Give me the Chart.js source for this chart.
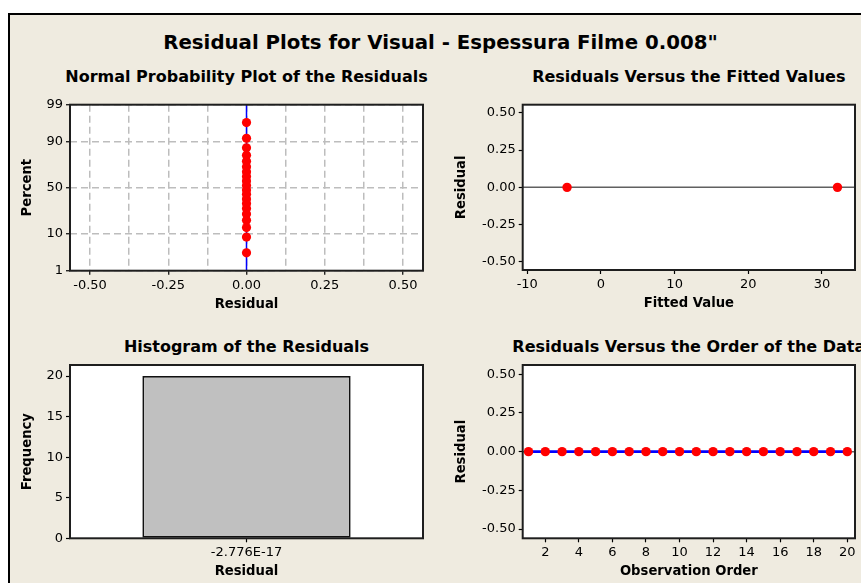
<!DOCTYPE html>
<html><head><meta charset="utf-8">
<script src="https://cdn.jsdelivr.net/npm/chart.js@4.4.1/dist/chart.umd.min.js"></script>
<style>
html,body{margin:0;padding:0;background:#fff;}
body{width:861px;height:583px;position:relative;overflow:hidden;font-family:"DejaVu Sans",sans-serif;}
#frame{position:absolute;left:8px;top:13px;width:900px;height:620px;background:#EFEBE0;border-left:2px solid #000;border-top:2px solid #000;}
.t{position:absolute;font-weight:bold;color:#000;text-align:center;white-space:nowrap;font-family:"DejaVu Sans",sans-serif;}
.st{font-size:16px;line-height:20px;width:500px;}
canvas{position:absolute;}
</style></head><body>
<div id="frame"></div>
<div class="t" style="left:140.5px;width:600px;top:31.4px;font-size:19.75px;line-height:24px;">Residual Plots for Visual - Espessura Filme 0.008"</div>
<div class="t st" style="left:-3.5px;top:67.3px;">Normal Probability Plot of the Residuals</div>
<div class="t st" style="left:438.8px;top:67.3px;">Residuals Versus the Fitted Values</div>
<div class="t st" style="left:-3.5px;top:336.5px;">Histogram of the Residuals</div>
<div class="t st" style="left:438.8px;top:336.5px;">Residuals Versus the Order of the Data</div>
<canvas id="c1" width="440" height="270" style="left:0px;top:50px;"></canvas>
<canvas id="c2" width="421" height="270" style="left:440px;top:50px;"></canvas>
<canvas id="c3" width="440" height="263" style="left:0px;top:320px;"></canvas>
<canvas id="c4" width="421" height="263" style="left:440px;top:320px;"></canvas>
<script>
// ---------- DATA ----------
const nppResiduals = [0,0,0,0,0,0,0,0,0,0,0,0,0,0,0,0,0,0,0,0];
const nppPercents = [3.4,8.3,13.2,18.1,23.0,27.9,32.8,37.7,42.6,47.5,52.5,57.4,62.3,67.2,72.1,77.0,81.9,86.8,91.7,96.6];
const nppFitMean = 0;
const nppXTicks = [-0.5,-0.375,-0.25,-0.125,0,0.125,0.25,0.375,0.5];
const nppYTickPercents = [1,10,50,90,99];

const fittedValues = [-4.6, 32.1];
const fittedResiduals = [0, 0];
const fittedXTicks = [-10,0,10,20,30];
const residualYTicks = [-0.5,-0.25,0,0.25,0.5];
const residualRef = 0;

const histCategories = ['-2.776E-17'];
const histFrequencies = [20];
const histYTicks = [0,5,10,15,20];

const obsOrder = [1,2,3,4,5,6,7,8,9,10,11,12,13,14,15,16,17,18,19,20];
const orderResiduals = [0,0,0,0,0,0,0,0,0,0,0,0,0,0,0,0,0,0,0,0];
const orderXTicks = [2,4,6,8,10,12,14,16,18,20];

// ---------- helpers ----------
function probit(p){
 const a=[-3.969683028665376e+01,2.209460984245205e+02,-2.759285104469687e+02,1.383577518672690e+02,-3.066479806614716e+01,2.506628277459239e+00];
 const b=[-5.447609879822406e+01,1.615858368580409e+02,-1.556989798598866e+02,6.680131188771972e+01,-1.328068155288572e+01];
 const c=[-7.784894002430293e-03,-3.223964580411365e-01,-2.400758277161838e+00,-2.549732539343734e+00,4.374664141464968e+00,2.938163982698783e+00];
 const d=[7.784695709041462e-03,3.224671290700398e-01,2.445134137142996e+00,3.754408661907416e+00];
 const pl=0.02425, ph=1-pl; let q,r;
 if(p<pl){q=Math.sqrt(-2*Math.log(p));return (((((c[0]*q+c[1])*q+c[2])*q+c[3])*q+c[4])*q+c[5])/((((d[0]*q+d[1])*q+d[2])*q+d[3])*q+1);}
 if(p>ph){q=Math.sqrt(-2*Math.log(1-p));return -(((((c[0]*q+c[1])*q+c[2])*q+c[3])*q+c[4])*q+c[5])/((((d[0]*q+d[1])*q+d[2])*q+d[3])*q+1);}
 q=p-0.5;r=q*q;return (((((a[0]*r+a[1])*r+a[2])*r+a[3])*r+a[4])*r+a[5])*q/(((((b[0]*r+b[1])*r+b[2])*r+b[3])*r+b[4])*r+1);
}
Chart.defaults.font.family = '"DejaVu Sans", sans-serif';
Chart.defaults.color = '#000';
const tickFont = {family:'"DejaVu Sans", sans-serif', size:13};
const axisFont = {family:'"DejaVu Sans", sans-serif', size:13.2, weight:'bold'};
const RED = '#FF0000', BLUE = '#0000FF';

const framePlugin = {
  id:'frame',
  beforeDraw(chart){const {ctx, chartArea:a}=chart; ctx.save(); ctx.fillStyle='#fff'; ctx.fillRect(a.left,a.top,a.right-a.left,a.bottom-a.top); ctx.restore();},
  afterDraw(chart){const {ctx, chartArea:a}=chart; ctx.save(); ctx.strokeStyle='#1e1e1e'; ctx.lineWidth=2; ctx.strokeRect(a.left,a.top,a.right-a.left,a.bottom-a.top); ctx.restore();}
};
const refLinePlugin = {
  id:'refLine',
  beforeDatasetsDraw(chart){const {ctx, chartArea:a}=chart; const y=chart.scales.y.getPixelForValue(residualRef); ctx.save(); ctx.strokeStyle='#606060'; ctx.lineWidth=1.5; ctx.beginPath(); ctx.moveTo(a.left,y); ctx.lineTo(a.right,y); ctx.stroke(); ctx.restore();}
};

function plainGrid(){ return {drawOnChartArea:false, drawTicks:true, tickLength:4, tickColor:'#000', tickWidth:1.2}; }
function linAxis(o){
  return {
    type:'linear', position:o.pos, min:o.min, max:o.max,
    afterBuildTicks:s=>{s.ticks=o.ticks.map(v=>({value:v}));},
    afterFit:s=>{ if(o.pos==='left') s.width=o.size; else s.height=o.size; },
    ticks:{font:tickFont, color:'#000', padding:3, autoSkip:false, maxRotation:0, minRotation:0, callback:o.cb},
    grid:o.grid || plainGrid(),
    border:Object.assign({display:false}, o.border||{}),
    title:{display:true, text:o.title, font:axisFont, color:'#000', padding:o.tpad}
  };
}
function baseOpts(top, right, scales){
  return {responsive:false, animation:false, devicePixelRatio:1,
    layout:{padding:{top:top,left:0,right:right,bottom:0}},
    plugins:{legend:{display:false}, tooltip:{enabled:false}},
    scales:scales};
}

// ---------- Panel 1: normal probability plot ----------
const zMin = probit(nppYTickPercents[0]/100), zMax = probit(nppYTickPercents[nppYTickPercents.length-1]/100);
new Chart(document.getElementById('c1'), {
  type:'scatter',
  data:{datasets:[
    {data:nppResiduals.map((r,i)=>({x:r,y:probit(nppPercents[i]/100)})), pointRadius:4.6, pointBackgroundColor:RED, pointBorderWidth:0, showLine:false},
    {data:[{x:nppFitMean,y:-3},{x:nppFitMean,y:3}], showLine:true, borderColor:BLUE, borderWidth:1.5, pointRadius:0}
  ]},
  options:baseOpts(54.7, 17, {
    x:linAxis({pos:'bottom', min:-0.564, max:0.564, ticks:nppXTicks, size:49.3, title:'Residual', tpad:{top:0,bottom:7.6},
      cb:(v,i)=> (i%2===0 ? v.toFixed(2) : ''),
      grid:{drawOnChartArea:true, drawTicks:true, tickLength:4, tickWidth:1.2, color:'#bdbdbd', lineWidth:1.5,
            tickColor:(c)=> (c.index%2===0 ? '#000' : 'rgba(0,0,0,0)')},
      border:{dash:[7,4]}}),
    y:linAxis({pos:'left', min:zMin, max:zMax, ticks:nppYTickPercents.map(p=>probit(p/100)), size:70, title:'Percent', tpad:{top:20,bottom:0},
      cb:(v,i)=> String(nppYTickPercents[i]),
      grid:{drawOnChartArea:true, drawTicks:true, tickLength:4, tickWidth:1.2, color:'#bdbdbd', lineWidth:1.5, tickColor:'#000'},
      border:{dash:[7,4]}})
  }),
  plugins:[framePlugin]
});

// ---------- Panel 2: residuals vs fitted ----------
new Chart(document.getElementById('c2'), {
  type:'scatter',
  data:{datasets:[{data:fittedValues.map((f,i)=>({x:f,y:fittedResiduals[i]})), pointRadius:4.7, pointBackgroundColor:RED, pointBorderWidth:0}]},
  options:baseOpts(54.7, 6, {
    x:linAxis({pos:'bottom', min:-10.62, max:34.48, ticks:fittedXTicks, size:50, title:'Fitted Value', tpad:{top:0,bottom:8.1}, cb:v=>String(v)}),
    y:linAxis({pos:'left', min:-0.555, max:0.555, ticks:residualYTicks, size:82.7, title:'Residual', tpad:{top:13.4,bottom:0}, cb:v=>v.toFixed(2)})
  }),
  plugins:[framePlugin, refLinePlugin]
});

// ---------- Panel 3: histogram ----------
new Chart(document.getElementById('c3'), {
  type:'bar',
  data:{labels:histCategories, datasets:[{data:histFrequencies, backgroundColor:'#C0C0C0', borderColor:'#111', borderWidth:1.8, borderSkipped:false, barPercentage:0.59, categoryPercentage:1.0}]},
  options:baseOpts(45, 17, {
    x:{type:'category', position:'bottom', offset:true,
       afterFit:s=>{s.height=44.7;},
       ticks:{font:tickFont, color:'#000', padding:3, maxRotation:0, minRotation:0, autoSkip:false},
       grid:Object.assign(plainGrid(), {offset:false}),
       border:{display:false},
       title:{display:true, text:'Residual', font:axisFont, color:'#000', padding:{top:0,bottom:3.6}}},
    y:linAxis({pos:'left', min:0, max:21.36, ticks:histYTicks, size:70, title:'Frequency', tpad:{top:20,bottom:0}, cb:v=>String(v)})
  }),
  plugins:[framePlugin]
});

// ---------- Panel 4: residuals vs order ----------
new Chart(document.getElementById('c4'), {
  type:'line',
  data:{datasets:[{data:obsOrder.map((o,i)=>({x:o,y:orderResiduals[i]})), borderColor:BLUE, borderWidth:2.6, pointRadius:4.7, pointBackgroundColor:RED, pointBorderWidth:0, tension:0}]},
  options:baseOpts(45, 6, {
    x:linAxis({pos:'bottom', min:0.653, max:20.46, ticks:orderXTicks, size:44.7, title:'Observation Order', tpad:{top:0,bottom:3.6}, cb:v=>String(v)}),
    y:linAxis({pos:'left', min:-0.56, max:0.56, ticks:residualYTicks, size:82.7, title:'Residual', tpad:{top:14,bottom:0}, cb:v=>v.toFixed(2)})
  }),
  plugins:[framePlugin, refLinePlugin]
});
</script>
</body></html>
